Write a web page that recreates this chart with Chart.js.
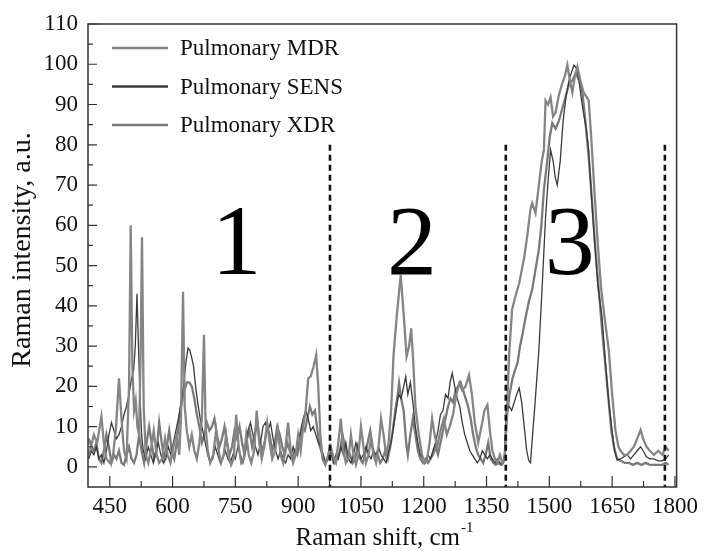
<!DOCTYPE html>
<html>
<head>
<meta charset="utf-8">
<title>Raman spectra</title>
<script src="https://cdn.jsdelivr.net/npm/chart.js@4.4.0/dist/chart.umd.min.js"></script>
<style>
  html, body { margin: 0; padding: 0; background: #fff; }
  #wrap { position: relative; width: 704px; height: 551px; }
</style>
</head>
<body>
<div id="wrap"><canvas id="raman-chart" width="704" height="551"></canvas></div>
<script>
// wavenumbers (cm-1) and intensities
const mdrX = [400,405,412,420,430,436,442,450,458,465,472,478,484,490,496,500,504,508,512,516,520,524,527,531,536,542,548,555,562,568,575,582,588,595,602,610,616,620,625,629,634,640,646,652,658,664,670,675,679,684,690,697,704,710,716,722,728,734,740,746,752,758,764,770,776,782,788,795,801,807,813,819,826,832,838,845,852,858,864,870,876,882,888,894,900,906,912,918,924,930,937,943,948,953,958,965,972,978,985,990,996,1002,1008,1014,1020,1026,1032,1038,1044,1050,1056,1062,1068,1074,1080,1086,1092,1098,1104,1110,1116,1122,1128,1136,1145,1152,1159,1165,1170,1175,1180,1189,1196,1202,1208,1214,1220,1226,1232,1240,1248,1255,1262,1270,1278,1285,1292,1300,1308,1315,1322,1330,1338,1345,1352,1358,1364,1370,1376,1382,1388,1393,1398,1404,1411,1418,1428,1440,1448,1455,1459,1467,1475,1482,1487,1491,1497,1503,1509,1515,1522,1530,1537,1543,1549,1555,1561,1567,1574,1582,1588,1594,1600,1608,1616,1624,1632,1642,1650,1658,1665,1670,1678,1686,1694,1702,1710,1718,1724,1732,1740,1750,1760,1770,1778,1785];
const mdrY = [3,5,8,6,12.5,6,2,1,3,10,22,12,4,2,20,60,25,14,16.5,10,8,30,57,15,3,1,4,9,3,1,2,7,3,1,5,8,3,12,43.5,15,9,5,8,4,2,6,12,32.8,10,4,1,3,9,4,1,3,8,3,0.5,2,13,5,1,2,8,3,1,4,14,6,2,5,11,6,2,4,9,3,1,5,11,4,1,3,8,4,10,14,22,22.5,25,27.8,20,8,2,0.5,3,5,2,1,6,12,4,1,2,8,3,0.5,3,10,5,1,3,7,3,1,5,12,8,3,6,14,28,38,47.7,38,27.4,30,34.4,26,15,7.5,3,1,2,6,12,8,5,9,12,8,10,13,18,20.8,19,20,22.8,18,11,6,10,14,15.4,9,4,2,1,3,1,2,12,28,39,42,45.6,52,58,64,65.5,63,70,76,78.7,91,90,91.8,87,88,92,95,97,99.8,96,93,97,99.4,96,93,92,91,82,68,55,44,37,29,18,9,5,4,3,3,4,5,7,9.2,7,5,4,3,4,3,5,4];

const sensX = [400,406,412,418,424,430,436,442,448,454,460,466,472,478,484,490,496,502,507,511,515,518,522,526,530,536,542,548,554,560,566,572,578,584,590,596,602,608,614,620,626,632,637,641,646,650,655,660,666,672,678,684,690,696,702,708,714,720,726,732,738,744,750,756,762,768,774,780,786,792,798,804,810,816,822,828,834,840,846,852,858,864,870,876,882,888,894,900,906,912,918,924,930,936,942,948,954,960,966,972,978,984,990,996,1002,1008,1014,1020,1026,1032,1038,1044,1050,1056,1062,1068,1074,1080,1086,1092,1098,1104,1110,1116,1122,1128,1134,1140,1146,1152,1157,1162,1168,1174,1180,1186,1192,1198,1204,1210,1216,1222,1228,1234,1240,1246,1252,1258,1263,1268,1274,1280,1286,1292,1298,1304,1310,1316,1322,1328,1334,1340,1346,1352,1358,1364,1370,1376,1382,1388,1393,1397,1404,1410,1416,1422,1428,1434,1440,1446,1451,1455,1460,1466,1475,1483,1491,1497,1503,1509,1514,1519,1526,1533,1540,1547,1553,1559,1565,1571,1577,1583,1588,1594,1600,1608,1616,1626,1634,1642,1650,1656,1662,1670,1678,1686,1694,1702,1710,1718,1724,1732,1740,1750,1760,1770,1778,1785];
const sensY = [2,4,3,5,2,3,1,4,8,11,9,7,8,10,13,15,18,22,24,30,43,32,18,8,4,2,5,3,1,4,6,3,1,2,5,3,6,9,12,16,20,26,29.5,29,27,25,20,16,12,9,6,3,1,2,5,3,1,2,4,2,1,3,2,5,3,1,4,9,11,8,5,3,6,10,11,9,11,7,4,2,4,2,1,3,2,5,3,6,9,12,14,12,9,10,8,6,5,3,1,2,4,1,3,2,5,3,6,2,1,3,6,4,2,3,5,3,2,4,3,5,3,2,1,4,6,10,14,18,17,20,22.4,18,21,16,10,6,3,2,1,3,2,4,6,9,13,14,18,17,21,23.3,20,17,15,11,8,6,4,3,2,1,2,4,3,2,3,2,1,2,1,0.5,3,14,15,14,16,18,19.6,16,10,4,1.5,1,8,16,29,45,62,71,78.7,76,72,70,76,86,92,96,98,99.8,99,96,91,87,84,78.7,68,56,45,37,26,16,9,4,1.7,2,2.5,3,2,3,4,5,4,2.5,2,2,1.5,1.5,2,3];

const xdrX = [400,406,412,418,424,430,436,442,448,454,460,466,472,478,484,490,496,502,508,514,520,526,532,538,544,550,556,562,568,574,580,586,592,598,604,610,616,622,628,634,640,646,652,658,664,670,676,682,688,694,700,706,712,718,724,730,736,742,748,754,760,766,772,778,784,790,796,802,808,814,820,826,832,838,844,850,856,862,868,874,880,886,892,898,904,910,916,922,928,934,940,946,952,958,964,970,976,982,988,994,1000,1006,1012,1018,1024,1030,1036,1042,1048,1054,1060,1066,1072,1078,1084,1090,1096,1102,1108,1114,1120,1126,1132,1138,1141,1146,1152,1158,1162,1168,1174,1180,1186,1192,1198,1204,1210,1216,1222,1228,1234,1240,1246,1252,1258,1264,1270,1276,1282,1288,1294,1300,1306,1312,1318,1324,1330,1336,1342,1348,1354,1360,1366,1372,1378,1384,1390,1394,1398,1405,1412,1418,1424,1430,1436,1443,1451,1459,1467,1475,1481,1487,1495,1501,1507,1515,1523,1531,1539,1547,1555,1563,1571,1579,1586,1594,1602,1610,1618,1626,1634,1642,1648,1655,1662,1670,1680,1690,1700,1710,1720,1730,1740,1750,1760,1770,1778,1785];
const xdrY = [7,5,4,6,2,1,4,8,5,1,3,2,4,1,0.5,3,5,2,1,3,8,4,1,6,10,6,2,4,11,6,2,5,9,4,2,6,12,16,19,21,21,20,17,13,10,6,8,11,9,10,12,8,5,7,10,6,3,5,9,7,10,6,3,7,9,5,8,11,7,4,6,10,8,4,6,10,8,5,3,6,4,2,4,3,7,10,9,12,15,13,14,9,5,3,1,2,5,3,1,2,4,8,5,2,3,1,2,5,2,1,3,6,9,5,2,3,1,2,4,2,5,9,14,18,20.8,17,14,6,3,8,12,8,4,2,1,2,1,2,3,5,3,6,9,12,15,17,16,19,20,21,19,17,15,12,8,5,3,2,1,3,6,2,1,0.5,1,0.5,1,3,12,18,22,24,25.8,30,33,37,41,44,49,54,60,68.8,76,82,85.4,84,86,89,92,95,96,97.8,96,93,86,77,66,54,44,34,25,16,9,4.6,2,1.5,1,1,0.5,1,0.5,1,0.5,0.5,0.5,0.5,1,0.5];

const seriesLabels = ["Pulmonary MDR", "Pulmonary SENS", "Pulmonary XDR"];
const xTicks = [450, 600, 750, 900, 1050, 1200, 1350, 1500, 1650, 1800];
const yTicks = [0, 10, 20, 30, 40, 50, 60, 70, 80, 90, 100, 110];
const regionNames = ["1", "2", "3"];
const regionX = [753, 1172, 1549];
const dividerX = [976, 1396, 1776];

const FONT = "'Liberation Serif', 'Times New Roman', serif";

function pts(xs, ys) {
  return xs.map((v, i) => ({ x: v, y: ys[i] }));
}

// frame, inward ticks, dashed dividers, region numbers, legend, axis titles
const decorPlugin = {
  id: 'decor',
  afterDraw(chart) {
    const { ctx, chartArea: a, scales } = chart;
    const x = scales.x, y = scales.y;
    ctx.save();

    // dividers
    ctx.strokeStyle = '#111';
    ctx.lineWidth = 2.6;
    ctx.setLineDash([6, 4]);
    dividerX.forEach(v => {
      const px = x.getPixelForValue(v);
      ctx.beginPath();
      ctx.moveTo(px, y.getPixelForValue(80));
      ctx.lineTo(px, a.bottom);
      ctx.stroke();
    });
    ctx.setLineDash([]);

    // frame
    ctx.strokeStyle = '#333';
    ctx.lineWidth = 1.5;
    ctx.strokeRect(a.left, a.top, a.right - a.left, a.bottom - a.top);

    // ticks pointing inward
    ctx.lineWidth = 1.2;
    ctx.beginPath();
    xTicks.forEach(v => {
      const px = x.getPixelForValue(v);
      ctx.moveTo(px, a.bottom); ctx.lineTo(px, a.bottom - 11);
      const m = v - 75;
      if (m > x.min) {
        const pm = x.getPixelForValue(m);
        ctx.moveTo(pm, a.bottom); ctx.lineTo(pm, a.bottom - 6);
      }
    });
    yTicks.forEach(v => {
      const py = y.getPixelForValue(v);
      ctx.moveTo(a.left, py); ctx.lineTo(a.left + 9, py);
      const m = v + 5;
      if (m < y.max) {
        const pm = y.getPixelForValue(m);
        ctx.moveTo(a.left, pm); ctx.lineTo(a.left + 5, pm);
      }
    });
    ctx.stroke();

    // region numbers
    ctx.fillStyle = '#000';
    ctx.font = '100px ' + FONT;
    ctx.textAlign = 'center';
    ctx.textBaseline = 'alphabetic';
    regionNames.forEach((t, i) => {
      ctx.fillText(t, x.getPixelForValue(regionX[i]), y.getPixelForValue(48));
    });

    // legend
    ctx.font = '23px ' + FONT;
    ctx.textAlign = 'left';
    ctx.textBaseline = 'middle';
    chart.data.datasets.forEach((ds, i) => {
      const ly = 48 + i * 38.5;
      ctx.strokeStyle = ds.borderColor;
      ctx.lineWidth = 2.4;
      ctx.beginPath();
      ctx.moveTo(112, ly); ctx.lineTo(168, ly);
      ctx.stroke();
      ctx.fillStyle = '#111';
      ctx.fillText(ds.label, 180, ly + 1);
    });

    // axis titles
    ctx.fillStyle = '#111';
    ctx.textBaseline = 'middle';
    const main = 'Raman shift, cm';
    ctx.font = '25px ' + FONT;
    const w1 = ctx.measureText(main).width;
    ctx.font = '15px ' + FONT;
    const w2 = ctx.measureText('-1').width;
    const sx = 384 - (w1 + w2) / 2;
    ctx.textAlign = 'left';
    ctx.font = '25px ' + FONT;
    ctx.fillText(main, sx, 538);
    ctx.font = '15px ' + FONT;
    ctx.fillText('-1', sx + w1 + 1, 528);

    ctx.font = '28px ' + FONT;
    ctx.translate(23, 250);
    ctx.rotate(-Math.PI / 2);
    ctx.textAlign = 'center';
    ctx.fillText('Raman intensity, a.u.', 0, 0);
    ctx.restore();
  }
};

const config = {
  type: 'line',
  data: {
    datasets: [
      {
        label: seriesLabels[0],
        data: pts(mdrX, mdrY),
        borderColor: '#858585',
        borderWidth: 2.3,
        pointRadius: 0,
        tension: 0,
        fill: false
      },
      {
        label: seriesLabels[1],
        data: pts(sensX, sensY),
        borderColor: '#3a3a3a',
        borderWidth: 1.3,
        pointRadius: 0,
        tension: 0,
        fill: false
      },
      {
        label: seriesLabels[2],
        data: pts(xdrX, xdrY),
        borderColor: '#7a7a7a',
        borderWidth: 2.3,
        pointRadius: 0,
        tension: 0,
        fill: false
      }
    ]
  },
  options: {
    responsive: false,
    animation: false,
    devicePixelRatio: 1,
    layout: { padding: { left: 0, right: 27, top: 24, bottom: 0 } },
    plugins: {
      legend: { display: false },
      tooltip: { enabled: false },
      title: { display: false }
    },
    scales: {
      x: {
        type: 'linear',
        min: 398,
        max: 1804,
        afterFit: s => { s.height = 64; },
        afterBuildTicks: s => { s.ticks = xTicks.map(v => ({ value: v })); },
        grid: { display: false, drawTicks: false },
        border: { display: false },
        ticks: {
          color: '#111',
          padding: 6,
          maxRotation: 0,
          autoSkip: false,
          callback: v => String(v),
          font: { family: FONT, size: 23 }
        }
      },
      y: {
        min: -5,
        max: 110,
        afterFit: s => { s.width = 88; },
        afterBuildTicks: s => { s.ticks = yTicks.map(v => ({ value: v })); },
        grid: { display: false, drawTicks: false },
        border: { display: false },
        ticks: {
          color: '#111',
          padding: 10,
          autoSkip: false,
          callback: v => String(v),
          font: { family: FONT, size: 23 }
        }
      }
    }
  },
  plugins: [decorPlugin]
};

new Chart(document.getElementById('raman-chart').getContext('2d'), config);
</script>
</body>
</html>
